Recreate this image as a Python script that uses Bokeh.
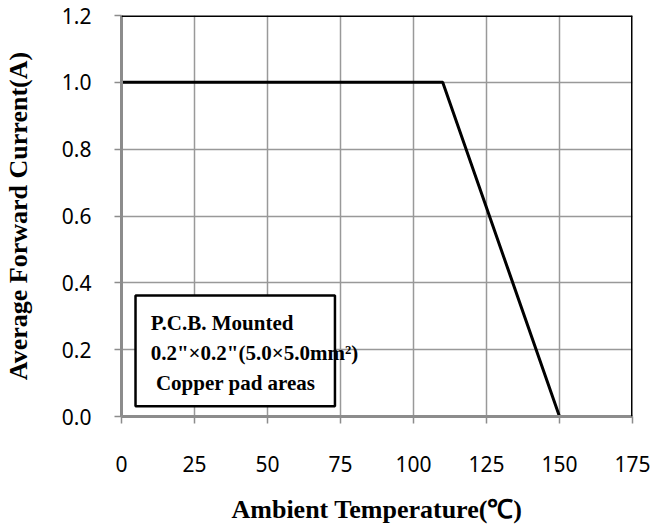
from bokeh.plotting import figure
from bokeh.models import FixedTicker, NumeralTickFormatter, Span, BoxAnnotation, Label
from bokeh.embed import file_html
from bokeh.resources import INLINE

# Data
temp = [0, 110, 150]
current = [1.0, 1.0, 0.0]
x_ticks = [0, 25, 50, 75, 100, 125, 150, 175]
y_ticks = [0.0, 0.2, 0.4, 0.6, 0.8, 1.0, 1.2]
note_lines = ["P.C.B. Mounted", "0.2\"×0.2\"(5.0×5.0mm²)", "\u00a0Copper pad areas"]

p = figure(width=651, height=531, x_range=(0, 175), y_range=(0, 1.2),
           output_backend="svg", toolbar_location=None,
           min_border_left=119, min_border_right=19, min_border_top=15, min_border_bottom=115)
p.outline_line_color = None
p.background_fill_color = "white"

p.xaxis.ticker = FixedTicker(ticks=x_ticks)
p.yaxis.ticker = FixedTicker(ticks=y_ticks)
p.yaxis.formatter = NumeralTickFormatter(format="0.0")

for ax in (p.xaxis, p.yaxis):
    ax.axis_line_color = "#8c8c8c"
    ax.axis_line_width = 3
    ax.major_tick_line_color = "#8c8c8c"
    ax.major_tick_line_width = 1.5
    ax.major_tick_out = 7
    ax.major_tick_in = 0
    ax.minor_tick_line_color = None
    ax.major_label_text_font = "Noto Sans"
    ax.major_label_text_font_size = "21px"
    ax.major_label_text_color = "black"
    ax.axis_label_text_font = "Liberation Serif"
    ax.axis_label_text_font_style = "bold"
    ax.axis_label_text_font_size = "26px"
    ax.axis_label_text_color = "black"

p.xaxis.major_label_standoff = 32
p.yaxis.major_label_standoff = 23
p.xaxis.axis_label = "Ambient Temperature(℃)"
p.yaxis.axis_label = "Average Forward Current(A)"
p.xaxis.axis_label_standoff = 20
p.yaxis.axis_label_standoff = 26

p.grid.grid_line_color = "#999999"
p.grid.grid_line_width = 1.5

# top/right border
p.add_layout(Span(location=1.2, dimension="width", line_color="black", line_width=3))
p.add_layout(Span(location=175, dimension="height", line_color="black", line_width=3))

p.line(temp, current, line_color="black", line_width=3)

p.add_layout(BoxAnnotation(left=4.8, right=73.1, bottom=0.031, top=0.362,
                           fill_color="white", fill_alpha=1.0,
                           line_color="black", line_alpha=1.0, line_width=2.5))
for i, t in enumerate(note_lines):
    p.add_layout(Label(x=10.0, y=0.281 - i * 0.09, text=t, text_font="Liberation Serif",
                       text_font_style="bold", text_font_size="21px", text_color="black",
                       text_baseline="middle"))

open("out.html", "w").write(file_html(p, INLINE))
